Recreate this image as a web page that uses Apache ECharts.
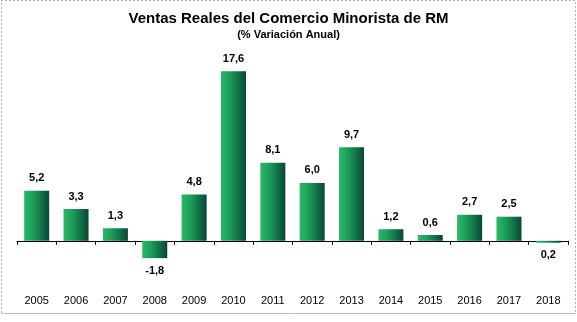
<!DOCTYPE html>
<html>
<head>
<meta charset="utf-8">
<script src="https://cdn.jsdelivr.net/npm/echarts@6/dist/echarts.min.js"></script>
<style>
  html, body { margin: 0; padding: 0; background: #fff; }
  #chart { width: 577px; height: 322px; }
</style>
</head>
<body>
<div id="chart"></div>
<script>
// Annual change in real retail sales, Región Metropolitana
const years = ['2005','2006','2007','2008','2009','2010','2011','2012','2013','2014','2015','2016','2017','2018'];
const variation = [5.2, 3.3, 1.3, -1.8, 4.8, 17.6, 8.1, 6.0, 9.7, 1.2, 0.6, 2.7, 2.5, -0.2];
const valueLabels = ['5,2','3,3','1,3','-1,8','4,8','17,6','8,1','6,0','9,7','1,2','0,6','2,7','2,5','0,2'];

const chart = echarts.init(document.getElementById('chart'), null, { renderer: 'canvas' });

const barFill = new echarts.graphic.LinearGradient(0, 0, 1, 0, [
  { offset: 0, color: '#2bb86a' },
  { offset: 0.35, color: '#1c9e58' },
  { offset: 0.75, color: '#0f6a43' },
  { offset: 1, color: '#0a4433' }
]);

const labelFont = { fontFamily: 'Liberation Sans, Arial', fontSize: 11, color: '#000' };

chart.setOption({
  animation: false,
  backgroundColor: '#fff',
  title: {
    text: 'Ventas Reales del Comercio Minorista de RM',
    subtext: '(% Variación Anual)',
    left: 'center',
    top: 6,
    itemGap: 3,
    textStyle: { fontFamily: 'Liberation Sans, Arial', fontSize: 15, fontWeight: 'bold', color: '#000' },
    subtextStyle: { fontFamily: 'Liberation Sans, Arial', fontSize: 11, fontWeight: 'bold', color: '#000' }
  },
  graphic: [{
    // dashed frame: left, top, right
    type: 'polyline',
    shape: { points: [[1.5, 313], [1.5, 0.5], [575.5, 0.5], [575.5, 313]] },
    style: { fill: 'none', stroke: '#b0b0b0', lineWidth: 1, lineDash: [2, 2] },
    silent: true
  }, {
    // solid bottom edge
    type: 'line',
    shape: { x1: 1, y1: 313.5, x2: 576, y2: 313.5 },
    style: { stroke: '#c0c0c0', lineWidth: 1 },
    silent: true
  }],
  grid: { left: 17, right: 9, top: 48, bottom: 33, containLabel: false, outerBoundsMode: 'none' },
  xAxis: [{
    // zero line with boundary ticks
    type: 'category',
    data: years,
    axisLine: { onZero: true, lineStyle: { color: '#000', width: 1 } },
    axisTick: { show: true, length: 4, lineStyle: { color: '#000' } },
    axisLabel: { show: false }
  }, {
    // year labels along the bottom
    type: 'category',
    data: years,
    position: 'bottom',
    axisLine: { show: false, onZero: false },
    axisTick: { show: false },
    axisLabel: Object.assign({ margin: 6, interval: 0 }, labelFont)
  }],
  yAxis: {
    type: 'value',
    min: -5,
    max: 20,
    show: false,
    splitLine: { show: false }
  },
  series: [{
    type: 'bar',
    data: variation,
    barWidth: 25,
    itemStyle: { color: barFill },
    label: {
      show: true,
      position: 'outside',
      distance: 7,
      fontFamily: 'Liberation Sans, Arial',
      fontSize: 11,
      fontWeight: 'bold',
      color: '#000',
      formatter: p => valueLabels[p.dataIndex]
    }
  }]
});
</script>
</body>
</html>
